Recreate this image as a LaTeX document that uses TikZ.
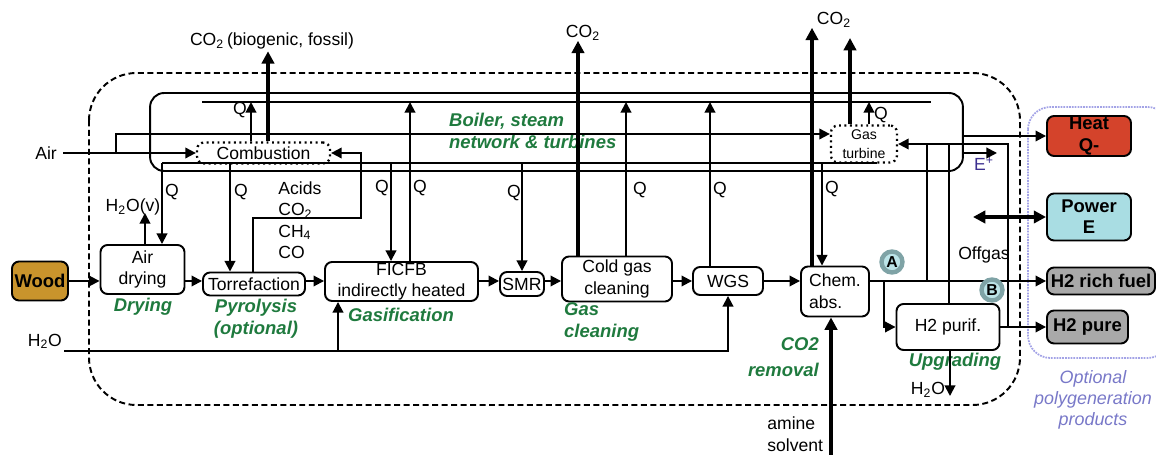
\documentclass[tikz,border=0pt]{standalone}
\usepackage{fontspec}
\setmainfont{Liberation Sans}
\usetikzlibrary{arrows.meta}
\definecolor{stagegreen}{HTML}{1F7A3E}
\definecolor{woodbrown}{HTML}{C9942C}
\definecolor{heatred}{HTML}{D4432B}
\definecolor{powercyan}{HTML}{A9DDE3}
\definecolor{prodgrey}{HTML}{A9A9A9}
\definecolor{polyblue}{HTML}{A3A3E6}
\definecolor{polytext}{HTML}{7878C8}
\definecolor{eplus}{HTML}{3C2F8F}
\definecolor{markteal}{HTML}{7FA3A6}
\definecolor{markcyan}{HTML}{BCE4E8}
\begin{document}
\begin{tikzpicture}[x=0.02cm,y=-0.02cm,
    every node/.style={font=\fontsize{10}{12.3}\selectfont},
    box/.style={draw,line width=1.1pt,rounded corners=4pt,align=center,inner sep=0pt},
    dotbox/.style={box,dotted,line width=1.3pt},
    prod/.style={box,font=\fontsize{10.5}{12}\selectfont\bfseries},
    flow/.style={line width=1.1pt,-{Triangle[length=6pt,width=6pt]}},
    fat/.style={line width=2pt,-{Triangle[length=7pt,width=7pt]}},
    fatboth/.style={line width=2pt,{Triangle[length=7pt,width=7pt]}-{Triangle[length=7pt,width=7pt]}},
    pipe/.style={line width=1.1pt},
    stage/.style={text=stagegreen,font=\fontsize{10.5}{12.5}\selectfont\bfseries\itshape,align=center},
    tagmark/.style={circle,draw=markteal,line width=2.5pt,fill=markcyan,inner sep=0pt,minimum size=0.42cm,font=\fontsize{9}{10}\selectfont\bfseries}]
\useasboundingbox (0,0) rectangle (1156,455);
\draw[line width=1.1pt,dash pattern=on 3.4pt off 2pt,rounded corners=0.95cm] (89,73) rectangle (1020,405);
\draw[draw=polyblue,line width=1pt,dash pattern=on 1pt off 0.6pt,rounded corners=0.45cm] (1028,107) rectangle (1170,358);
\node[draw,line width=1.1pt,rounded corners=8pt,minimum width=16.26cm,minimum height=1.56cm] (boiler) at (556.5,132) {};
\coordinate (hdr) at (202,102);
\coordinate (hdrend) at (931,102);
\coordinate (hsup) at (162,163);
\coordinate (hsupend) at (877,163);
\draw[pipe] (hdr) -- (hdrend);
\draw[pipe] (hsup) -- (hsupend);
\node[box,fill=woodbrown,font=\fontsize{10.5}{12}\selectfont\bfseries,minimum width=1.12cm,minimum height=0.78cm] (wood) at (40,281) {Wood};
\node[box,minimum width=1.68cm,minimum height=0.98cm] (dry) at (142.5,269.5) {Air\\drying};
\node[box,minimum width=2.04cm,minimum height=0.46cm] (torr) at (254,284) {Torrefaction};
\node[box,minimum width=3.06cm,minimum height=0.78cm] (ficfb) at (401.5,281.5) {FICFB\\indirectly heated};
\node[box,minimum width=0.88cm,minimum height=0.48cm] (smr) at (522,284) {SMR};
\node[box,minimum width=2.2cm,minimum height=0.9cm] (cold) at (617,279) {Cold gas\\cleaning};
\node[box,minimum width=1.4cm,minimum height=0.56cm] (wgs) at (728,281) {WGS};
\node[box,align=left,minimum width=1.36cm,minimum height=1.0cm] (chem) at (835,291.5) {Chem.\\abs.};
\node[box,minimum width=2.06cm,minimum height=0.92cm] (purif) at (948,327) {H2 purif.};
\node[dotbox,minimum width=2.66cm,minimum height=0.42cm] (comb) at (263.5,153) {Combustion};
\node[dotbox,font=\fontsize{8}{10.5}\selectfont,minimum width=1.32cm,minimum height=0.74cm] (gast) at (864,144) {Gas\\turbine};
\node[prod,fill=heatred,minimum width=1.68cm,minimum height=0.8cm] (heat) at (1089,136) {Heat\\Q-};
\node[prod,fill=powercyan,minimum width=1.68cm,minimum height=0.94cm] (power) at (1089,217) {Power\\E};
\node[prod,fill=prodgrey,minimum width=2.16cm,minimum height=0.54cm] (rich) at (1101,281) {H2 rich fuel};
\node[prod,fill=prodgrey,minimum width=1.62cm,minimum height=0.66cm] (pure) at (1087.5,327) {H2 pure};
\node[anchor=east] (airtxt) at (63,153) {Air};
\node[anchor=south east,inner sep=1pt] (h2oin) at (64,351) {H\textsubscript{2}O};
\node[inner sep=1pt] (co2comb) at (272,41) {CO\textsubscript{2}\,(biogenic, fossil)};
\node[inner sep=0pt] (co2cold) at (583,33) {CO\textsubscript{2}};
\node[inner sep=0pt] (co2chem) at (834,20) {CO\textsubscript{2}};
\node (h2ov) at (133,207) {H\textsubscript{2}O(v)};
\node[anchor=north west,align=left,inner sep=0pt] (gases) at (278,181) {Acids\\CO\textsubscript{2}\\CH\textsubscript{4}\\CO};
\node (offgas) at (984,255) {Offgas};
\node[text=eplus] (eplustxt) at (984,164) {E\textsuperscript{+}};
\node (h2opur) at (928,390) {H\textsubscript{2}O};
\node[anchor=west,align=left,inner sep=0pt] (amtxt) at (767,434) {amine\\solvent};
\node (q1) at (240,110) {Q};
\node (q2) at (172,192) {Q};
\node (q3) at (241,192) {Q};
\node (q4) at (382,188) {Q};
\node (q5) at (420,188) {Q};
\node (q6) at (514,193) {Q};
\node (q7) at (640,190) {Q};
\node (q8) at (720,190) {Q};
\node (q9) at (832,189) {Q};
\node (q10) at (881,115) {Q};
\node[stage] (sdry) at (143,307) {Drying};
\node[stage] (spyr) at (256,319) {Pyrolysis\\(optional)};
\node[stage] (sgas) at (401,315) {Gasification};
\node[stage,align=left,anchor=west] (sclean) at (558,322) {Gas\\cleaning};
\node[stage,align=right,anchor=east,font=\fontsize{10.5}{14.7}\selectfont\bfseries\itshape] (sco2) at (825,357) {CO2\\removal};
\node[stage] (supg) at (955,362) {Upgrading};
\node[stage,align=left,anchor=west] (sboil) at (443,131) {Boiler, steam\\network \& turbines};
\node[text=polytext,align=center,font=\fontsize{10.2}{12}\selectfont\itshape] (poly) at (1093,400) {Optional\\polygeneration\\products};
\coordinate (airsplit) at (116,153);
\coordinate (vap) at (145,213);
\coordinate (gtco2) at (850,38);
\coordinate (eout) at (997,153);
\coordinate (pwr) at (973,217);
\coordinate (h2oout) at (950,396);
\coordinate (amine) at (831,458);
\draw[flow] (wood) -- (dry.west |- wood);
\draw[flow] (dry.east |- wood) -- (torr.west |- wood);
\draw[flow] (torr.east |- wood) -- (ficfb.west |- wood);
\draw[flow] (ficfb.east |- wood) -- (smr.west |- wood);
\draw[flow] (smr.east |- wood) -- (cold.west |- wood);
\draw[flow] (cold.east |- wood) -- (wgs.west |- wood);
\draw[flow] (wgs.east |- wood) -- (chem.west |- wood);
\draw[flow] (chem.east |- rich) -- (rich.west);
\draw[flow] (884,0 |- rich) |- (purif.west);
\draw[flow] (purif.east) -- (pure.west);
\draw[flow] (airtxt.east) -- (comb.west);
\draw[flow] (airsplit) |- (gast.west |- 0,134);
\draw[flow] (251,0 |- comb.north) -- (251,0 |- hdr);
\draw[fat] (268,0 |- comb.north) -- (268,0 |- co2comb.south);
\draw[flow] (hsup) -- (hsup |- dry.north);
\draw[flow] (230,0 |- hsup) -- (230,0 |- torr.north);
\draw[flow] (145,0 |- dry.north) -- (vap);
\draw[flow] (253,0 |- torr.north) |- (361,218) |- (comb.east);
\draw[flow] (391,0 |- hsup) -- (391,0 |- ficfb.north);
\draw[flow] (410,0 |- ficfb.north) -- (410,0 |- hdr);
\draw[flow] (522,0 |- hsup) -- (smr.north);
\draw[fat] (578,0 |- cold.north) -- (578,0 |- co2cold.south);
\draw[flow] (626,0 |- cold.north) -- (626,0 |- hdr);
\draw[flow] (710,0 |- wgs.north) -- (710,0 |- hdr);
\draw[fat] (812,0 |- chem.north) -- (812,0 |- co2chem.south);
\draw[flow] (822,0 |- gast.south) -- (822,0 |- chem.north);
\draw[fat] (850,0 |- gast.north) -- (gtco2);
\draw[flow] (869,0 |- gast.north) -- (869,0 |- hdr);
\draw[flow] (1008,0 |- pure) |- (gast.east);
\draw[pipe] (927,0 |- rich) -- (927,0 |- gast.east);
\draw[pipe] (949,0 |- purif.north) -- (949,0 |- gast.east);
\draw[flow] (boiler.east |- heat) -- (heat.west);
\draw[flow] (boiler.east |- eout) -- (eout);
\draw[fatboth] (pwr) -- (power.west);
\draw[flow] (950,0 |- purif.south) -- (h2oout);
\draw[fat] (amine) -- (831,0 |- chem.south);
\draw[flow] (h2oin.south east) -| (wgs.south);
\draw[flow] (338,0 |- h2oin.south east) -- (338,0 |- ficfb.south);
\node[tagmark] (ma) at (892,262) {A};
\node[tagmark] (mb) at (992,290) {B};
\end{tikzpicture}
\end{document}
